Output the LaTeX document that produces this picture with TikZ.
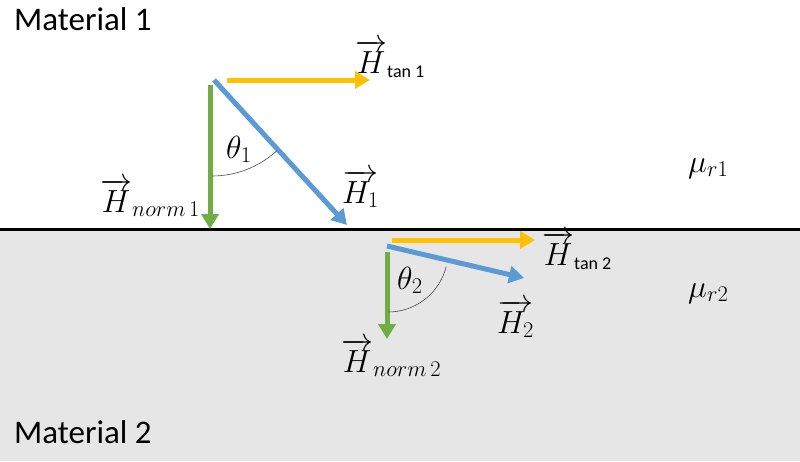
\RequirePackage{fix-cm}
\documentclass[tikz,border=0pt]{standalone}
\usepackage{amsmath}
\usepackage{fontspec}
\newfontfamily\calfnt{Carlito}
\usetikzlibrary{arrows.meta}
\definecolor{orng}{HTML}{FFC000}
\definecolor{blu}{HTML}{5B9BD5}
\definecolor{grn}{HTML}{70AD47}
\definecolor{bgg}{HTML}{E7E6E6}
\newcommand{\tansub}[1]{\text{\calfnt\fontsize{18}{20}\selectfont tan #1}}
\tikzset{
  vec/.style={line width=5pt,-{Triangle[length=15pt,width=17pt]}},
  lbl/.style={anchor=base west,inner sep=0pt,font=\fontsize{32}{36}\selectfont},
  mat/.style={anchor=base west,inner sep=0pt,font=\calfnt\fontsize{33}{38}\selectfont},
  anglearc/.style={draw=black!70,line width=0.6pt}
}
\begin{document}
\begin{tikzpicture}[x=1pt,y=-1pt]
\useasboundingbox (0,0) rectangle (800,461);
\fill[bgg] (0,229) rectangle (800,461);
\coordinate (bl) at (0,229);
\coordinate (br) at (800,229);
\draw[line width=3pt] (bl) -- (br);
% material 1
\coordinate (g1s) at (210,85);  \coordinate (g1e) at (210,229);
\coordinate (b1s) at (214,80);  \coordinate (b1e) at (347,225);
\coordinate (o1s) at (227,80);  \coordinate (o1e) at (370,80);
\draw[vec,grn] (g1s) -- (g1e);
\draw[vec,blu] (b1s) -- (b1e);
\draw[vec,orng] (o1s) -- (o1e);
\draw[anglearc] (212,176) arc[start angle=90,end angle=47.3,radius=96];
% material 2
\coordinate (g2s) at (387,252); \coordinate (g2e) at (387,339);
\coordinate (b2s) at (387,246); \coordinate (b2e) at (524,278);
\coordinate (o2s) at (392,240); \coordinate (o2e) at (535,240);
\draw[vec,grn] (g2s) -- (g2e);
\draw[vec,blu] (b2s) -- (b2e);
\draw[vec,orng] (o2s) -- (o2e);
\draw[anglearc] (388,312) arc[start angle=90,end angle=14,radius=60];
% labels
\node[mat] (m1) at (14,30) {Material 1};
\node[mat] (m2) at (14,443) {Material 2};
\node[lbl] (ht1) at (355,73) {$\overrightarrow{H}_{\tansub{1}}$};
\node[lbl] (h1) at (342,203) {$\overrightarrow{H_1}$};
\node[lbl] (t1) at (226,158) {$\theta_1$};
\node[lbl] (hn1) at (100,212) {$\overrightarrow{H}_{norm\,1}$};
\node[lbl] (t2) at (397,289) {$\theta_2$};
\node[lbl] (h2) at (497,333) {$\overrightarrow{H_2}$};
\node[lbl] (ht2) at (542,265) {$\overrightarrow{H}_{\tansub{2}}$};
\node[lbl] (hn2) at (341,372) {$\overrightarrow{H}_{norm\,2}$};
\node[lbl] (mu1) at (688,172) {$\mu_{r1}$};
\node[lbl] (mu2) at (688,297) {$\mu_{r2}$};
\end{tikzpicture}
\end{document}
